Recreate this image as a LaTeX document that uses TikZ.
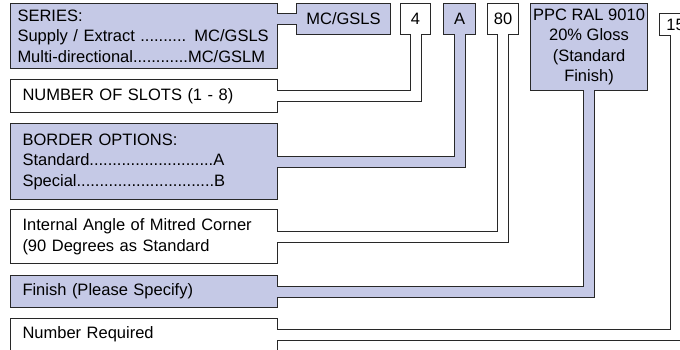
\documentclass[tikz,border=0pt]{standalone}
\usepackage{fontspec}
\setmainfont{Liberation Sans}
\usetikzlibrary{positioning,calc}
\definecolor{optblue}{RGB}{197,201,230}
\definecolor{edgegray}{RGB}{40,40,40}

\tikzset{
    codebox/.style={draw=edgegray, line width=1pt, anchor=north west, inner sep=0pt, align=center, minimum height=31pt},
    descbox/.style={draw=edgegray, line width=1pt, anchor=north west, inner xsep=12pt, inner ysep=0pt, text width=243pt, align=left},
    optfill/.style={fill=optblue},
    pipe/.style={draw=edgegray, line width=1pt, double=white, double distance=10pt},
    bluepipe/.style={pipe, double=optblue},
}

\begin{document}
\begin{tikzpicture}[x=1pt, y=-1pt, font=\fontsize{16.5}{20.5}\selectfont]
    \useasboundingbox (0,0) rectangle (680,349);
    \clip (0,0) rectangle (680,349);

    % code boxes along the top
    \node [codebox, optfill, minimum width=94pt] (seriescode) at (296,3) {MC/GSLS};
    \node [codebox, minimum width=30pt] (slotscode) at (400,3) {4};
    \node [codebox, optfill, minimum width=32pt] (bordercode) at (443,3) {A};
    \node [codebox, minimum width=31pt] (anglecode) at (487,3) {80};
    \node [codebox, optfill, minimum width=117pt, minimum height=87pt] (finishcode) at (530,3) {PPC RAL 9010\\20\% Gloss\\(Standard\\Finish)};
    \node [codebox, minimum width=32pt, minimum height=22pt] (qtycode) at (659,13) {15};

    % descriptions on the left
    \node [descbox, optfill, inner xsep=7pt, text width=253pt, minimum height=65pt] (series) at (10,3)
        {SERIES:\\Supply / Extract .......... MC/GSLS\\Multi-directional............MC/GSLM};
    \node [descbox, minimum height=33pt] (slots) at (10,79) {NUMBER OF SLOTS (1 - 8)};
    \node [descbox, optfill, minimum height=76pt] (border) at (10,123)
        {BORDER OPTIONS:\\Standard...........................A\\Special..............................B};
    \node [descbox, minimum height=54pt] (angle) at (10,209)
        {Internal Angle of Mitred Corner\\(90 Degrees as Standard};
    \node [descbox, optfill, minimum height=32pt] (finish) at (10,275) {Finish (Please Specify)};
    \node [descbox, minimum height=32pt] (qty) at (10,318) {Number Required};

    % pipes from description to code
    \draw [bluepipe] ($(series.east |- seriescode.west)+(-1,0)$) -- ($(seriescode.west)+(1,0)$);
    \draw [pipe] ($(slots.east)+(-1,0)$) -| ($(slotscode.south)+(0,-1)$);
    \draw [bluepipe] ($(border.east)+(-1,0)$) -| ($(bordercode.south)+(0,-1)$);
    \draw [pipe] ($(angle.east)+(-1,0)$) -| ($(anglecode.south)+(0,-1)$);
    \draw [bluepipe] ($(finish.east)+(-1,0)$) -| ($(finishcode.south)+(0,-1)$);
    \draw [pipe] ($(qty.east)+(-1,0)$) -| ($(qtycode.south)+(0,-1)$);
\end{tikzpicture}
\end{document}
